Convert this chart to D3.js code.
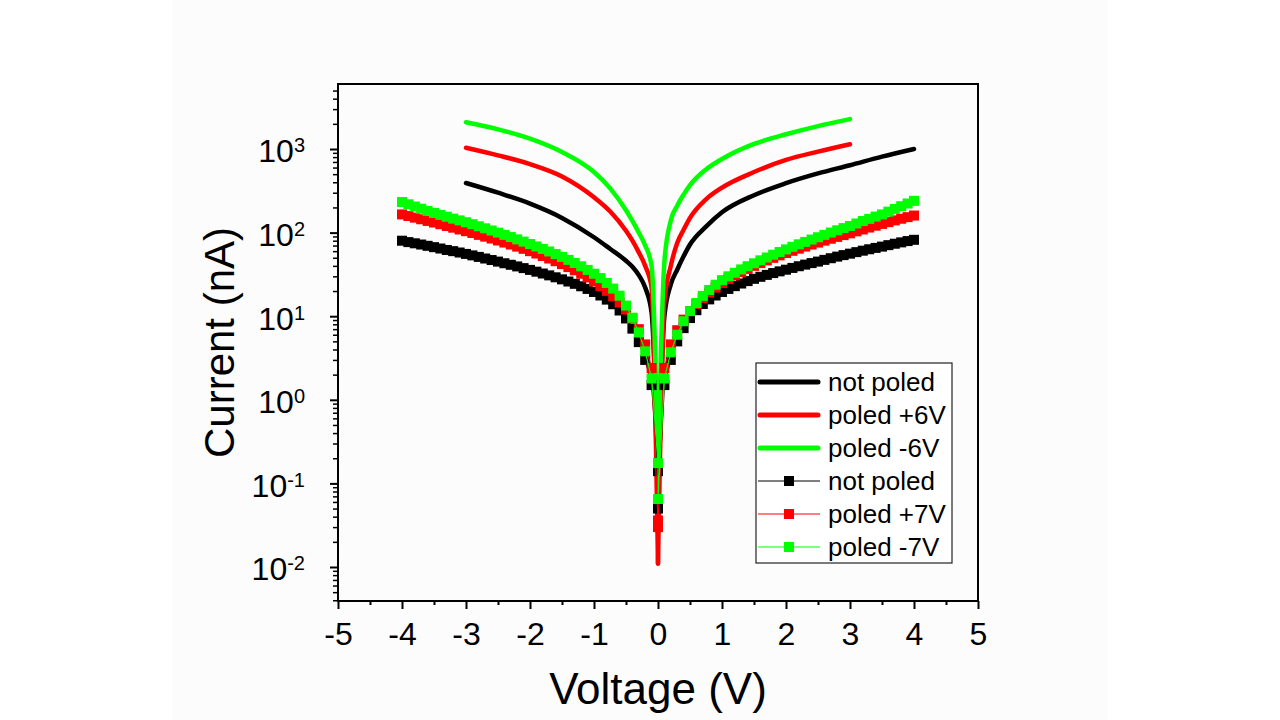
<!DOCTYPE html>
<html><head><meta charset="utf-8">
<script src="https://cdn.jsdelivr.net/npm/d3@7"></script>
<style>body{margin:0;background:#fff}svg{display:block}</style>
</head><body><svg id="c" width="1280" height="720"></svg>
<script>
// ---------- DATA ----------
const xTicks = [-5,-4,-3,-2,-1,0,1,2,3,4,5];
const yTicks = [0.01,0.1,1,10,100,1000];
const yTickExp = ["-2","-1","0","1","2","3"];

// solid lines (V, I in nA)
const lineV_notPoled = [-3,-2.5,-2,-1.5,-1,-0.75,-0.5,-0.4,-0.3,-0.2,-0.1,0,0.1,0.2,0.3,0.4,0.5,0.75,1,1.5,2,2.5,3,3.5,4];
const lineI_notPoled = [392,300,222,150,88,64,46,39,31,22,11,0.12,10,24,36,52,72,118,175,280,390,510,640,810,1000];
const lineV_6 = [-3,-2.5,-2,-1.5,-1,-0.75,-0.5,-0.4,-0.3,-0.2,-0.1,0,0.1,0.2,0.3,0.4,0.5,0.75,1,1.5,2,2.5,3];
const lineI_p6 = [1036,840,660,470,265,180,105,80,58,40,22,0.011,15,40,75,108,150,250,345,530,740,930,1140];
const lineI_m6 = [2090,1720,1330,920,530,340,185,138,100,70,40,0.15,45,140,210,285,370,570,760,1150,1500,1880,2280];

// scatter series: sweep 0 -> -4 (listed from -4) and 0 -> +4
const scatV_neg = [-4.0,-3.9,-3.8,-3.7,-3.6,-3.5,-3.4,-3.3,-3.2,-3.1,-3.0,-2.9,-2.8,-2.7,-2.6,-2.5,-2.4,-2.3,-2.2,-2.1,-2.0,-1.9,-1.8,-1.7,-1.6,-1.5,-1.4,-1.3,-1.2,-1.1,-1.0,-0.9,-0.8,-0.7,-0.6,-0.5,-0.4,-0.3,-0.2,-0.1,0.0];
const scatV_pos = [0.0,0.1,0.2,0.3,0.4,0.5,0.6,0.7,0.8,0.9,1.0,1.1,1.2,1.3,1.4,1.5,1.6,1.7,1.8,1.9,2.0,2.1,2.2,2.3,2.4,2.5,2.6,2.7,2.8,2.9,3.0,3.1,3.2,3.3,3.4,3.5,3.6,3.7,3.8,3.9,4.0];

const scatI_notPoled_neg = [80,77,74.5,72,69.5,67,64.5,62,60,57.8,55.6,53.4,51.2,49,47,45,43,41.2,39.4,37.6,35.8,34.1,32.4,30.8,29.2,27.6,26,24.4,22.8,21.2,19.5,17.7,15.8,13.9,11.7,9.4,7.1,4.9,3.0,1.5,0.14];
const scatI_notPoled_pos = [0.05,1.5,3.0,5.0,7.2,9.5,11.8,14.0,15.9,17.7,19.5,21.2,22.9,24.6,26.3,28.0,29.6,31.2,32.8,34.4,36.0,37.8,39.6,41.4,43.2,45.0,47.2,49.4,51.6,53.8,56.0,58.4,60.8,63.2,65.6,68.0,70.8,73.6,76.4,79.2,82.0];

const scatI_p7_neg = [165,158,151,144.5,138,132,126,120,114.5,109,104,99,94,89.5,85,80.5,76,72,68,64,60,56.2,52.5,49,45.5,42,38.7,35.4,32.2,29.1,26,23,20.1,17.3,14.6,12,9.4,7,4.6,2.4,0.036];
const scatI_p7_pos = [0.03,2.4,4.6,6.8,9.1,11.5,14.0,16.5,19.2,22.0,25.0,27.8,30.7,33.7,36.8,40.0,43.2,46.5,49.9,53.4,57.0,60.6,64.3,68.1,72.0,76.0,80.2,84.5,88.9,93.4,98.0,103.5,109,115,121,127,133.5,140,146.5,153,160];

const scatI_m7_neg = [232,218,205,193,182,172,163,155,147,140,133,126,119,112.5,106,100,94,88.5,83,78,73,68.3,63.8,59.5,55.3,51.2,47.2,43.3,39.5,35.8,32.2,28.6,25,21.4,17.6,13.4,9.6,6.4,3.8,1.8,0.175];
const scatI_m7_pos = [0.065,1.8,3.7,6.0,8.7,11.5,14.4,17.5,20.6,23.8,27.0,30.0,33.1,36.3,39.6,43.0,46.6,50.4,54.4,58.6,63.0,67.6,72.4,77.4,82.6,88.0,94.0,100.2,106.6,113.2,120,128.5,137.5,146,155.5,165,178,192,207,223,240];

const legendLabels = ["not poled","poled +6V","poled -6V","not poled","poled +7V","poled -7V"];
const seriesColors = ["#000000","#ff0000","#00ff00"];

// ---------- CHART ----------
const FONT = "'Liberation Sans', Arial, Helvetica, sans-serif";
const svg = d3.select("#c").style("font-family", FONT);
svg.append("rect").attr("x",172).attr("y",0).attr("width",936).attr("height",720).attr("fill","#fcfcfc");

const L=338, R=978, T=84, B=601;
const x = d3.scaleLinear().domain([-5,5]).range([L,R]);
const y = d3.scaleLog().domain([0.00392,5993]).range([B,T]);

// solid curves
const lineSeries = [
  {V:lineV_notPoled, I:lineI_notPoled, c:seriesColors[0]},
  {V:lineV_6, I:lineI_p6, c:seriesColors[1]},
  {V:lineV_6, I:lineI_m6, c:seriesColors[2]}
];
const smooth = d3.line().x(d=>x(d[0])).y(d=>y(d[1])).curve(d3.curveMonotoneX);
const gLines = svg.append("g");
lineSeries.forEach(s=>{
  const pts = s.V.map((v,i)=>[v,s.I[i]]);
  const neg = pts.filter(p=>p[0]<=0), pos = pts.filter(p=>p[0]>=0);
  [neg,pos].forEach(b=>{
    gLines.append("path").attr("d",smooth(b)).attr("fill","none")
      .attr("stroke",s.c).attr("stroke-width",4.5)
      .attr("stroke-linecap","round").attr("stroke-linejoin","round");
  });
});

// scatter series
const scatSeries = [
  {neg:scatI_notPoled_neg,pos:scatI_notPoled_pos,c:seriesColors[0]},
  {neg:scatI_p7_neg,pos:scatI_p7_pos,c:seriesColors[1]},
  {neg:scatI_m7_neg,pos:scatI_m7_pos,c:seriesColors[2]}
];
const straight = d3.line().x(d=>x(d[0])).y(d=>y(d[1]));
const MS = 10;
scatSeries.forEach(s=>{
  const pts = scatV_neg.map((v,i)=>[v,s.neg[i]]).concat(scatV_pos.map((v,i)=>[v,s.pos[i]]));
  const g = svg.append("g");
  g.append("path").attr("d",straight(pts)).attr("fill","none").attr("stroke",s.c).attr("stroke-width",1.2);
  g.selectAll("rect").data(pts).join("rect")
    .attr("x",d=>x(d[0])-MS/2).attr("y",d=>y(d[1])-MS/2)
    .attr("width",MS).attr("height",MS).attr("fill",s.c);
});

// axes
const TF = 32;
const gx = svg.append("g").attr("transform",`translate(0,${B})`)
  .call(d3.axisBottom(x).tickValues(xTicks).tickSize(8).tickPadding(13).tickFormat(d=>String(d)));
gx.select(".domain").remove();
gx.selectAll(".tick line").attr("stroke","#000").attr("stroke-width",2);
gx.selectAll(".tick text").attr("font-size",TF).attr("fill","#000").attr("font-family",FONT);
const xMinor = d3.range(-4.5,5,1);
const gxm = svg.append("g").attr("transform",`translate(0,${B})`)
  .call(d3.axisBottom(x).tickValues(xMinor).tickSize(4).tickFormat(""));
gxm.select(".domain").remove();
gxm.selectAll(".tick line").attr("stroke","#000").attr("stroke-width",2);

const gy = svg.append("g").attr("transform",`translate(${L},0)`)
  .call(d3.axisLeft(y).tickValues(yTicks).tickSize(8).tickPadding(25).tickFormat(()=>""));
gy.select(".domain").remove();
gy.selectAll(".tick line").attr("stroke","#000").attr("stroke-width",2);
gy.selectAll(".tick text").each(function(d,i){
  const t = d3.select(this).attr("font-size",TF).attr("fill","#000").attr("font-family",FONT).attr("dy","0.4em");
  t.append("tspan").text("10");
  t.append("tspan").attr("dy","-0.5em").attr("font-size",20).text(yTickExp[i]);
});
const yMinor = [];
[-3,-2,-1,0,1,2,3].forEach(k=>{ for(let m=2;m<=9;m++){ const v=m*Math.pow(10,k); if(v>=0.00392&&v<=5993) yMinor.push(v);} });
const gym = svg.append("g").attr("transform",`translate(${L},0)`)
  .call(d3.axisLeft(y).tickValues(yMinor).tickSize(5).tickFormat(""));
gym.select(".domain").remove();
gym.selectAll(".tick line").attr("stroke","#000").attr("stroke-width",1.5);

// frame
svg.append("rect").attr("x",L).attr("y",T).attr("width",R-L).attr("height",B-T)
  .attr("fill","none").attr("stroke","#000").attr("stroke-width",2);

// axis titles
svg.append("text").attr("x",(L+R)/2).attr("y",704).attr("text-anchor","middle")
  .attr("font-size",44).attr("fill","#000").text("Voltage (V)");
svg.append("text").attr("transform",`translate(234,${(T+B)/2}) rotate(-90)`).attr("text-anchor","middle")
  .attr("font-size",42).attr("fill","#000").text("Current (nA)");

// legend
const lg = svg.append("g");
lg.append("rect").attr("x",756).attr("y",363).attr("width",196).attr("height",200)
  .attr("fill","#fff").attr("stroke","#222").attr("stroke-width",1.2);
legendLabels.forEach((lab,i)=>{
  const cy = 382 + i*33, c = seriesColors[i%3];
  if(i<3){
    lg.append("line").attr("x1",760).attr("x2",818).attr("y1",cy).attr("y2",cy)
      .attr("stroke",c).attr("stroke-width",5).attr("stroke-linecap","round");
  } else {
    lg.append("line").attr("x1",758).attr("x2",820).attr("y1",cy).attr("y2",cy)
      .attr("stroke",c).attr("stroke-width",1.2);
    lg.append("rect").attr("x",789-MS/2).attr("y",cy-MS/2).attr("width",MS).attr("height",MS).attr("fill",c);
  }
  lg.append("text").attr("x",828).attr("y",cy+9).attr("font-size",26).attr("fill","#000").text(lab);
});
</script></body></html>
